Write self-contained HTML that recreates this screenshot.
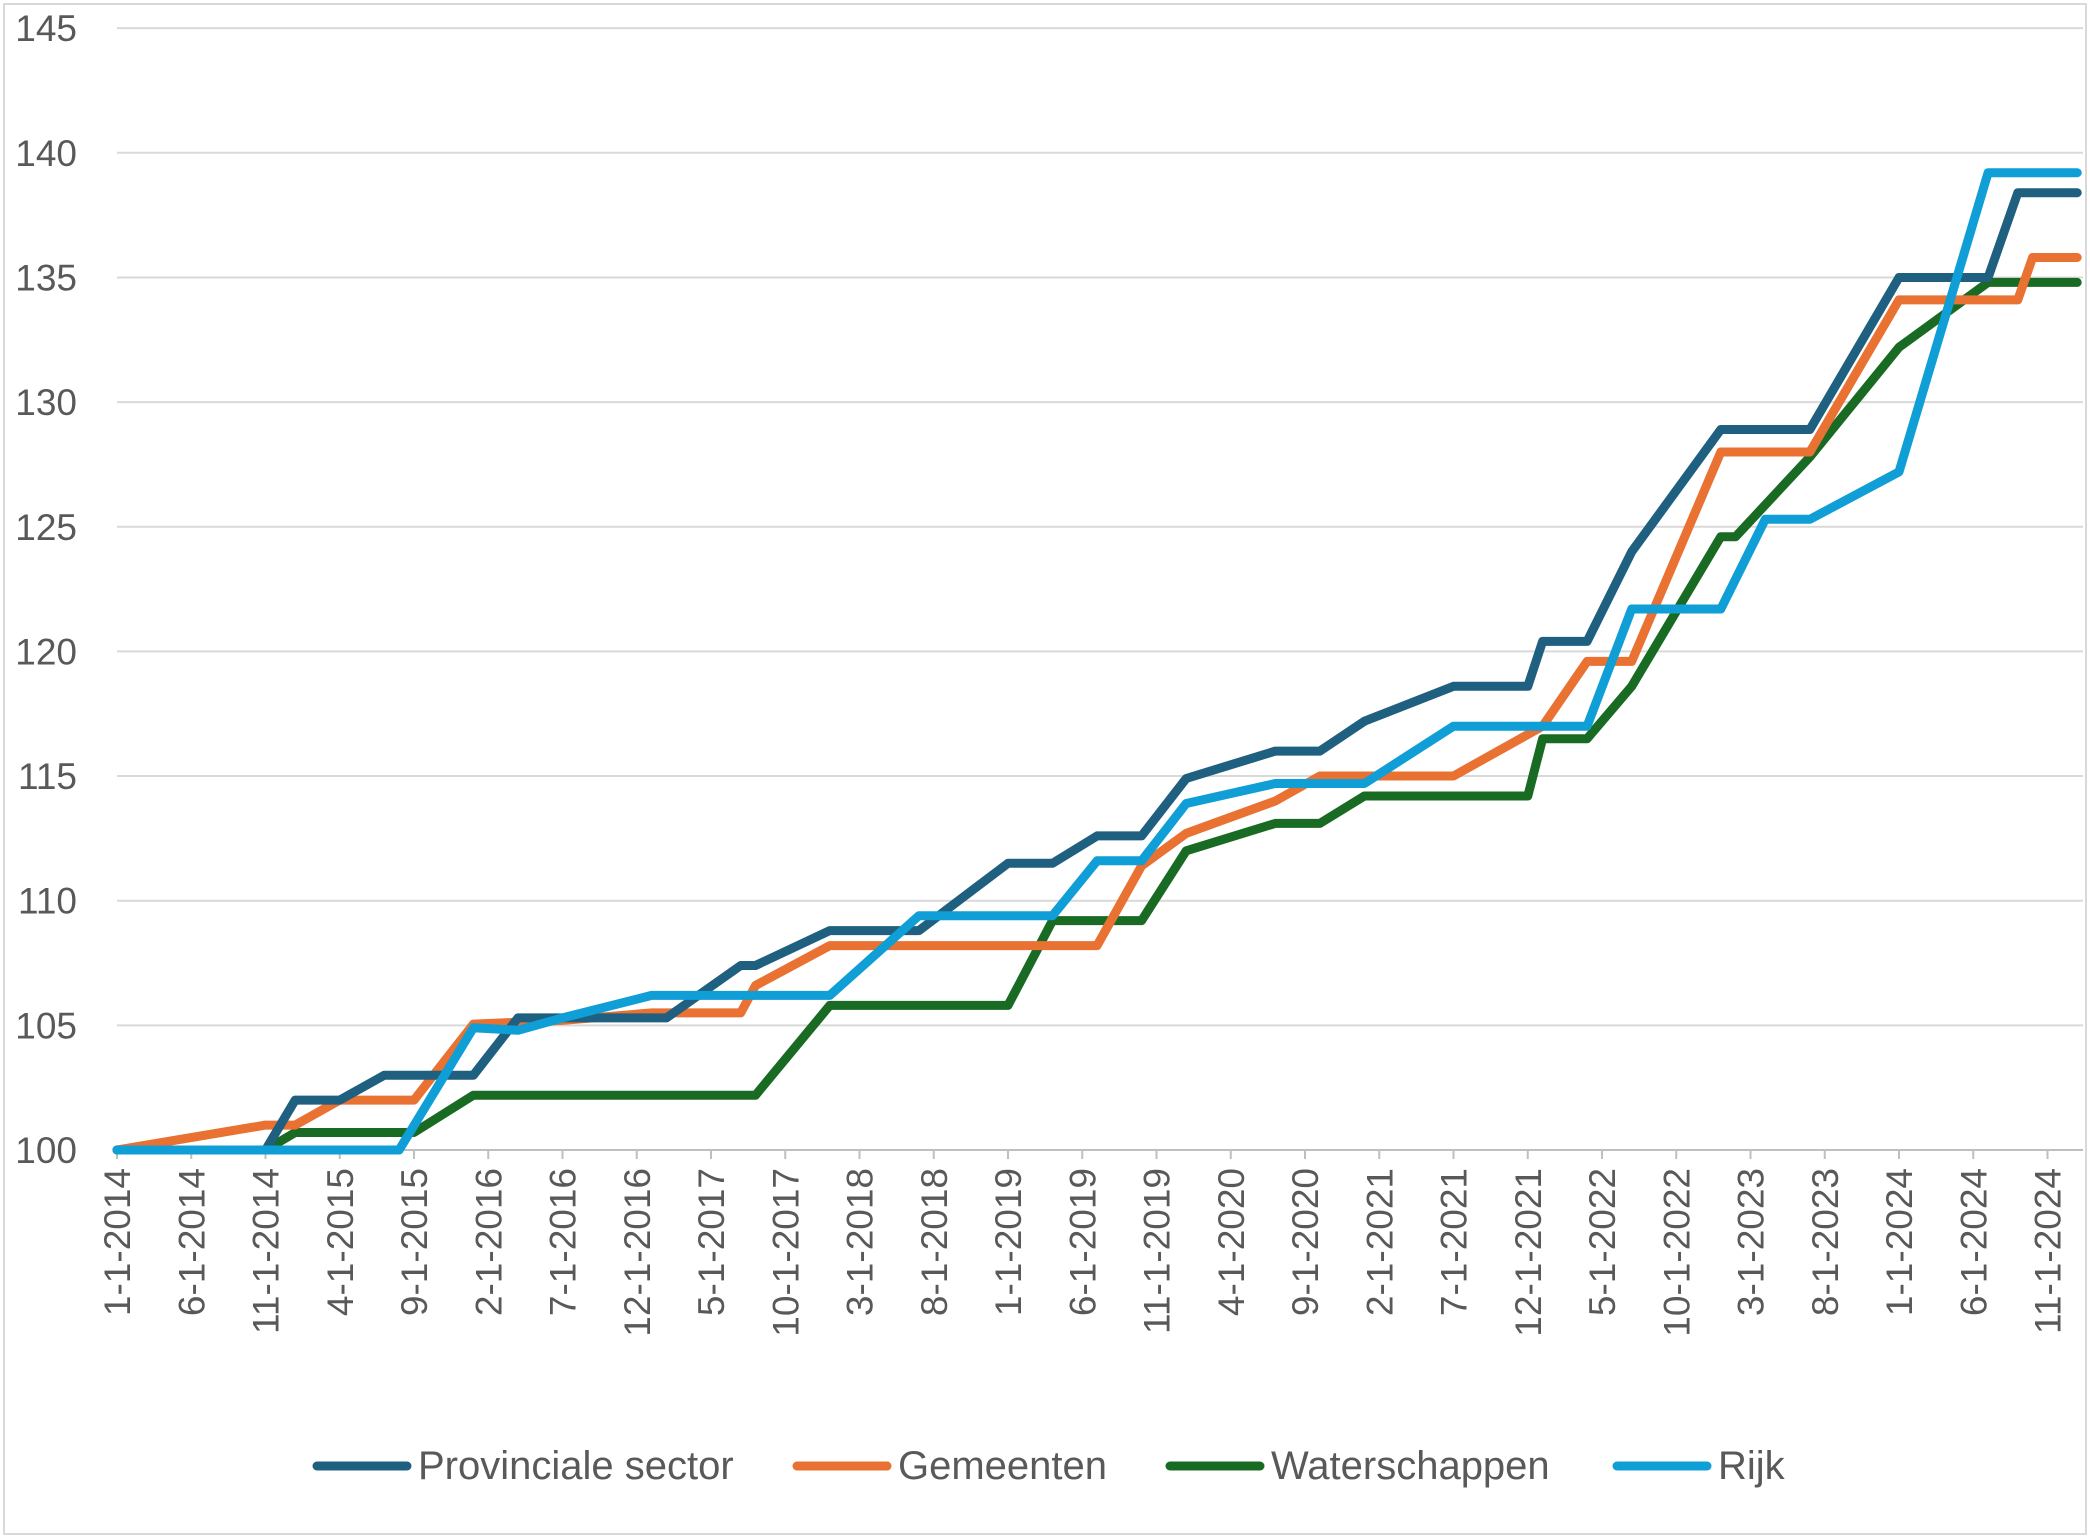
<!DOCTYPE html>
<html><head><meta charset="utf-8">
<style>
html,body{margin:0;padding:0;background:#fff;}
svg{display:block;font-family:"Liberation Sans",sans-serif;}
</style></head>
<body>
<svg id="chart" width="2090" height="1540" viewBox="0 0 2090 1540" xmlns="http://www.w3.org/2000/svg">
<rect x="4" y="4" width="2082" height="1530" fill="#fff" stroke="#d9d9d9" stroke-width="2"/>
<g id="grid"></g>
<g id="yaxis"></g>
<g id="xaxis"></g>
<g id="series"></g>
<g id="legend"></g>
</svg>
<script>
const yTicks = [100,105,110,115,120,125,130,135,140,145];
const monthCount = 133;
const labelEvery = 5;
const seriesNames = ["Provinciale sector","Gemeenten","Waterschappen","Rijk"];
const seriesColors = ["#1f5f80","#e97132","#196b24","#0f9ed5"];
const provMonths = [0,10,12,15,18,24,27,37,42,43,48,54,60,63,66,69,72,78,81,84,90,95,96,99,102,108,114,120,126,128,132];
const provValues = [100,100,102,102,103,103,105.3,105.3,107.4,107.4,108.8,108.8,111.5,111.5,112.6,112.6,114.9,116.0,116.0,117.2,118.6,118.6,120.4,120.4,124.0,128.9,128.9,135.0,135.0,138.4,138.4];
const gemMonths = [0,10,12,15,20,24,30,36,42,43,48,66,69,72,78,81,90,96,99,102,108,114,120,128,129,132];
const gemValues = [100,101,101,102,102,105.05,105.2,105.5,105.5,106.6,108.2,108.2,111.4,112.7,114.0,115.0,115.0,117.0,119.6,119.6,128.0,128.0,134.1,134.1,135.8,135.8];
const watMonths = [0,10,12,20,24,43,48,60,63,69,72,78,81,84,95,96,99,102,108,109,114,120,126,132];
const watValues = [100,100,100.7,100.7,102.2,102.2,105.8,105.8,109.2,109.2,112.0,113.1,113.1,114.2,114.2,116.5,116.5,118.6,124.6,124.6,127.8,132.2,134.8,134.8];
const rijkMonths = [0,19,24,27,30,36,48,54,63,66,69,72,78,84,90,99,102,108,111,114,120,126,132];
const rijkValues = [100,100,104.9,104.8,105.3,106.2,106.2,109.4,109.4,111.6,111.6,113.9,114.7,114.7,117.0,117.0,121.7,121.7,125.3,125.3,127.2,139.2,139.2];

const NS="http://www.w3.org/2000/svg";
const X0=117, MW=14.85, Y100=1150, PU=24.93, XR=2083;
function xs(i){return X0+i*MW;}
function ys(v){return Y100-(v-100)*PU;}
function mk(tag,attrs,parent){const e=document.createElementNS(NS,tag);for(const k in attrs)e.setAttribute(k,attrs[k]);parent.appendChild(e);return e;}
const grid=document.getElementById('grid'),yax=document.getElementById('yaxis'),xax=document.getElementById('xaxis'),ser=document.getElementById('series'),leg=document.getElementById('legend');
yTicks.forEach(v=>{
  if(v>100){const l=mk('line',{x1:X0,x2:XR,y1:ys(v),y2:ys(v),stroke:'#d9d9d9','stroke-width':2},grid);
  
  }
  const t=mk('text',{x:77,y:ys(v)+13,'text-anchor':'end','font-size':37,fill:'#595959'},yax);
  t.textContent=v;
  
  
});
const axl=mk('line',{x1:X0,x2:XR,y1:Y100,y2:Y100,stroke:'#bfbfbf','stroke-width':2},xax);


for(let i=0;i<monthCount;i+=labelEvery){
  const y=2014+Math.floor(i/12), m=(i%12)+1;
  const tk=mk('line',{x1:xs(i),x2:xs(i),y1:Y100,y2:Y100+9,stroke:'#bfbfbf','stroke-width':2},xax);
  
  
  const t=mk('text',{x:0,y:0,'text-anchor':'end','font-size':37,fill:'#595959',transform:`translate(${xs(i)+13},1168) rotate(-90)`},xax);
  t.textContent=m+'-1-'+y;
  
  
}
const allM=[provMonths,gemMonths,watMonths,rijkMonths], allV=[provValues,gemValues,watValues,rijkValues];
[2,1,0,3].forEach(s=>{
  const pts=allM[s].map((m,i)=>xs(m).toFixed(1)+','+ys(allV[s][i]).toFixed(1)).join(' ');
  const p=mk('polyline',{points:pts,fill:'none',stroke:seriesColors[s],'stroke-width':9,'stroke-linejoin':'round','stroke-linecap':'round'},ser);
  
  
});
const legX=[317,797,1170,1617];
seriesNames.forEach((n,s)=>{
  const l=mk('line',{x1:legX[s],x2:legX[s]+90,y1:1466,y2:1466,stroke:seriesColors[s],'stroke-width':9,'stroke-linecap':'round'},leg);
  
  
  const t=mk('text',{x:legX[s]+101,y:1479,'font-size':40,fill:'#595959'},leg);
  t.textContent=n;
  
  
});
</script>
</body></html>
